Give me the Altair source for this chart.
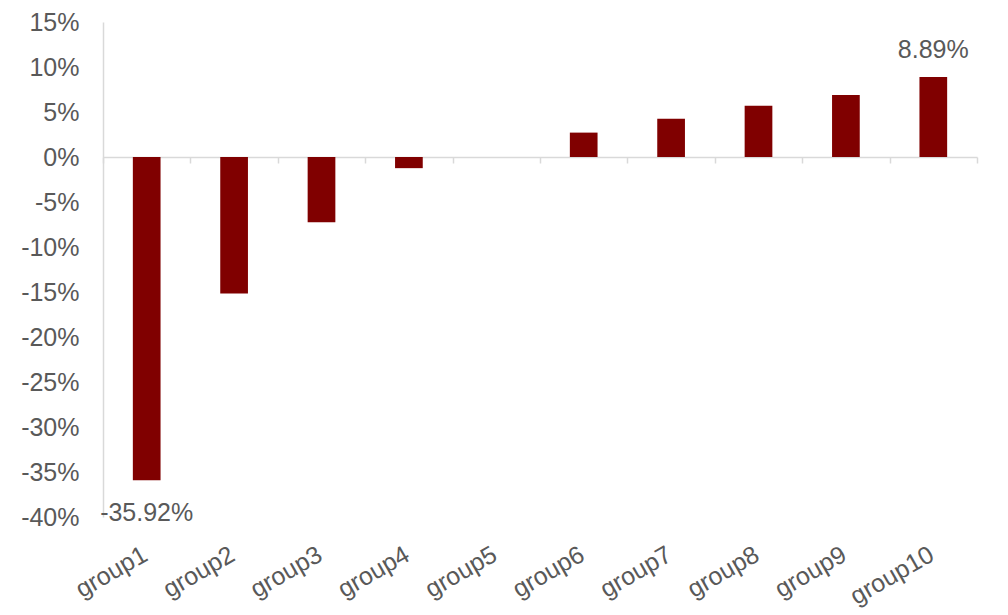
import altair as alt
import pandas as pd

groups = ["group1", "group2", "group3", "group4", "group5",
          "group6", "group7", "group8", "group9", "group10"]
values = [-0.3592, -0.1518, -0.0725, -0.0124, 0.0,
          0.0271, 0.0426, 0.0570, 0.0688, 0.0889]
labels = ["-35.92%", "", "", "", "", "", "", "", "", "8.89%"]
y_ticks = [-0.40, -0.35, -0.30, -0.25, -0.20, -0.15, -0.10, -0.05,
           0.0, 0.05, 0.10, 0.15]

df = pd.DataFrame({"group": groups, "value": values, "label": labels})

W, H = 874, 495
y_min, y_max = -0.40, 0.15
zero_px = H * y_max / (y_max - y_min)

FONT = "Liberation Sans"
GRAY = "#595959"
LINE = "#d9d9d9"

x_enc = alt.X(
    "group:N", sort=groups, title=None,
    scale=alt.Scale(paddingInner=0, paddingOuter=0),
    axis=alt.Axis(
        offset=-(H - zero_px), domainColor=LINE, domainWidth=1.5,
        tickColor=LINE, tickWidth=1.5, tickSize=6, tickBand="extent",
        labelAngle=-30, labelAlign="right", labelBaseline="middle",
        labelPadding=389, labelOffset=-2, labelFontSize=25, labelFont=FONT,
        labelColor=GRAY, labelOverlap=False, labelBound=False, labelFlush=False,
    ),
)
y_enc = alt.Y(
    "value:Q", title=None,
    scale=alt.Scale(domain=[y_min, y_max], nice=False, zero=False),
    axis=alt.Axis(
        values=y_ticks, ticks=False, grid=False,
        labelExpr="replace(format(datum.value, '.0%'), '\u2212', '-')",
        domainColor=LINE, domainWidth=1.5, labelPadding=24,
        labelFontSize=25, labelFont=FONT, labelColor=GRAY,
    ),
)

bars = alt.Chart(df).mark_bar(
    color="#800000", width=alt.RelativeBandSize(0.317)
).encode(x=x_enc, y=y_enc)

neg_text = alt.Chart(df).transform_filter(
    "datum.label != '' && datum.value < 0"
).mark_text(
    baseline="alphabetic", dy=41, fontSize=25, font=FONT, color=GRAY
).encode(x=alt.X("group:N", sort=groups), y="value:Q", text="label:N")

pos_text = alt.Chart(df).transform_filter(
    "datum.label != '' && datum.value >= 0"
).mark_text(
    baseline="alphabetic", dy=-19, fontSize=25, font=FONT, color=GRAY
).encode(x=alt.X("group:N", sort=groups), y="value:Q", text="label:N")

chart = alt.layer(bars, neg_text, pos_text).properties(
    width=W, height=H, background="white",
    autosize=alt.AutoSizeParams(type="none"),
    padding={"left": 95, "top": 14, "right": 23, "bottom": 96},
).configure_view(strokeWidth=0, stroke="transparent")

chart.save("out.html", embed_options={"renderer": "svg", "actions": False})
